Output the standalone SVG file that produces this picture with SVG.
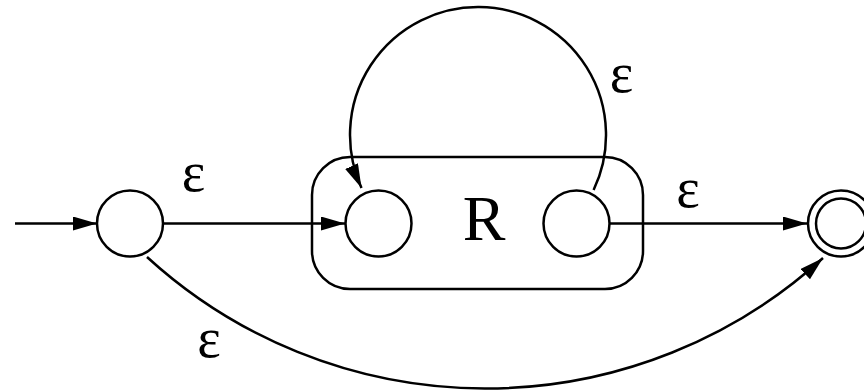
<svg xmlns="http://www.w3.org/2000/svg" width="864" height="390" viewBox="0 0 864 390">
<style>
.st{fill:none;stroke:#000;stroke-width:2.5}
.lbl{font-family:"Liberation Serif","DejaVu Serif",serif;font-size:56px;fill:#000;text-anchor:middle}
.big{font-family:"Liberation Serif","DejaVu Serif",serif;font-size:64px;fill:#000;text-anchor:middle}
</style>
<defs>
<marker id="ah" markerUnits="userSpaceOnUse" markerWidth="26" markerHeight="16" refX="24" refY="7" orient="auto" viewBox="0 0 26 16">
<path d="M0,0 L24,7 L0,14 z" fill="#000"/>
</marker>
</defs>
<rect id="boxR" x="312" y="157" width="331" height="132" rx="38" ry="38" class="st"/>
<g id="start"><circle cx="130" cy="223.5" r="33" class="st" fill="#fff"/></g>
<g id="rIn"><circle cx="378.5" cy="223.5" r="33" class="st"/></g>
<g id="rOut"><circle cx="576.5" cy="223.5" r="33" class="st"/></g>
<g id="final"><circle cx="841" cy="223.5" r="33" class="st"/><circle cx="841" cy="223.5" r="25" class="st"/></g>
<text id="labelR" class="big" x="484" y="240">R</text>
<g id="connectors">
<line x1="15" y1="223.5" x2="97" y2="223.5" class="st" marker-end="url(#ah)"/>
<line x1="163" y1="223.5" x2="345" y2="223.5" class="st" marker-end="url(#ah)"/>
<line x1="609.5" y1="223.5" x2="807" y2="223.5" class="st" marker-end="url(#ah)"/>
<path d="M593.6,190 A128,128 0 1 0 361.5,188" class="st" marker-end="url(#ah)"/>
<path d="M147,257 A501.5,501.5 0 0 0 823,258" class="st" marker-end="url(#ah)"/>
</g>
<g id="labels">
<text class="lbl" x="193.5" y="191">ε</text>
<text class="lbl" x="621.5" y="92">ε</text>
<text class="lbl" x="688" y="207">ε</text>
<text class="lbl" x="209" y="357">ε</text>
</g>
</svg>
